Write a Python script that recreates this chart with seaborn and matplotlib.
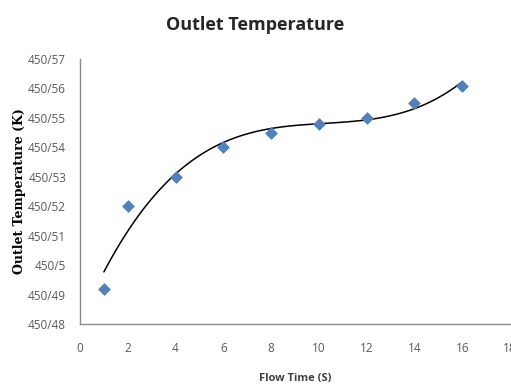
import numpy as np
import pandas as pd
import matplotlib
matplotlib.use('Agg')
import matplotlib.pyplot as plt
import seaborn as sns
from matplotlib.ticker import FixedLocator

# data
flow_time = [1, 2, 4, 6, 8, 10, 12, 14, 16]
outlet_temp = [450.492, 450.520, 450.530, 450.540, 450.545, 450.548, 450.550, 450.555, 450.561]
y_ticks = [450.48, 450.49, 450.50, 450.51, 450.52, 450.53, 450.54, 450.55, 450.56, 450.57]
y_tick_labels = ['450/48', '450/49', '450/5', '450/51', '450/52', '450/53',
                 '450/54', '450/55', '450/56', '450/57']
x_ticks = [0, 2, 4, 6, 8, 10, 12, 14, 16, 18]

df = pd.DataFrame({'time': flow_time, 'temp': outlet_temp})

sns.set_style('white')
plt.rcParams['font.family'] = ['Open Sans', 'DejaVu Sans']

fig = plt.figure(figsize=(5.11, 3.89), dpi=100)
ax = fig.add_axes([80 / 511, 65 / 389, 430 / 511, 265 / 389])

# cubic trendline, like the Excel polynomial fit
sns.regplot(data=df, x='time', y='temp', order=3, ci=None, scatter=False,
            line_kws={'color': 'black', 'lw': 1.1}, ax=ax)
sns.scatterplot(data=df, x='time', y='temp', marker='D', s=36, color='#4F81BD',
                edgecolor='#4F81BD', zorder=3, ax=ax)

ax.set_xlim(0, 18)
ax.set_ylim(450.48, 450.57)
ax.xaxis.set_major_locator(FixedLocator(x_ticks))
ax.set_xticklabels([str(t) for t in x_ticks])
ax.yaxis.set_major_locator(FixedLocator(y_ticks))
ax.set_yticklabels(y_tick_labels)

for side in ['top', 'right']:
    ax.spines[side].set_visible(False)
for side in ['left', 'bottom']:
    ax.spines[side].set_color('#8c8c8c')
    ax.spines[side].set_linewidth(1.0)
ax.tick_params(axis='both', direction='out', length=4, width=0.8, color='#8c8c8c',
               labelsize=8.5, labelcolor='#595959', pad=6)
ax.tick_params(axis='x', pad=9)

ax.set_xlabel('Flow Time (S)', fontsize=8, fontweight='bold', color='#404040', labelpad=13)
ax.set_ylabel('Outlet Temperature (K)', fontsize=9, fontweight='bold', color='black',
              family=['DejaVu Serif'])
ax.yaxis.set_label_coords(-0.125, 0.5)
fig.suptitle('Outlet Temperature', x=0.5, y=0.96, fontsize=13, fontweight='bold')

fig.savefig('out.png', dpi=100)
